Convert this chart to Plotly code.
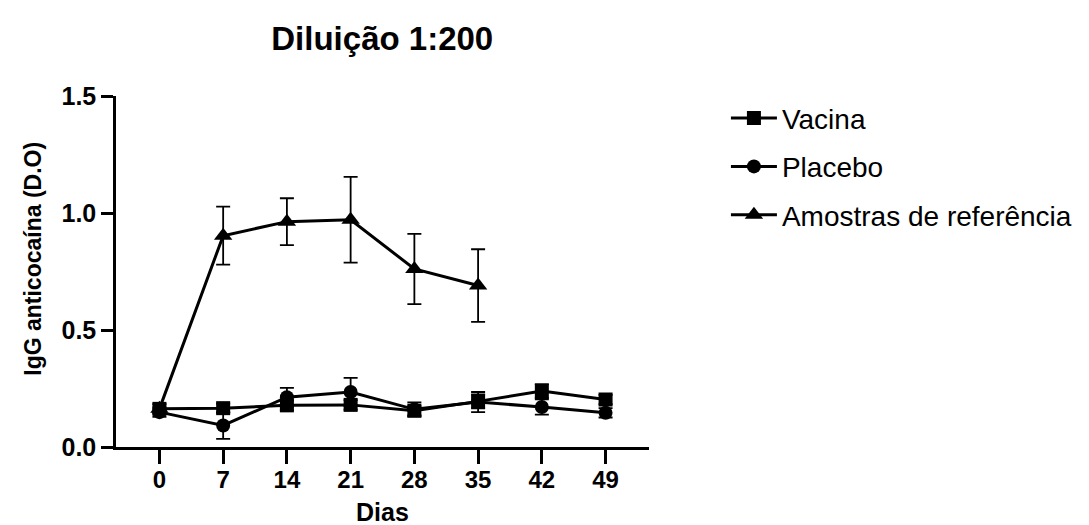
import plotly.graph_objects as go

dias = [0, 7, 14, 21, 28, 35, 42, 49]
dias_ref = [0, 7, 14, 21, 28, 35]

vacina = [0.163, 0.166, 0.178, 0.180, 0.155, 0.195, 0.239, 0.203]
vacina_err = [0.02, 0.02, 0.02, 0.02, 0.02, 0.03, 0.03, 0.02]

placebo = [0.149, 0.092, 0.213, 0.235, 0.161, 0.192, 0.171, 0.146]
placebo_err = [0.02, 0.057, 0.04, 0.06, 0.03, 0.043, 0.033, 0.02]

referencia = [0.163, 0.903, 0.963, 0.971, 0.761, 0.690]
referencia_err = [0.0, 0.124, 0.10, 0.183, 0.15, 0.155]

x_ticks = [0, 7, 14, 21, 28, 35, 42, 49]
y_ticks = [0.0, 0.5, 1.0, 1.5]
y_ticklabels = ["0.0", "0.5", "1.0", "1.5"]

FONT = "Liberation Sans, Arial, sans-serif"
BLACK = "#000000"

# plot-area geometry (pixels)
L, R, T, B = 107.5, 641.0, 87.7, 439.0
W, H = R - L, B - T

series = [
    ("Vacina", dias, vacina, vacina_err, "square", 14),
    ("Placebo", dias, placebo, placebo_err, "circle", 14),
    ("Amostras de referência", dias_ref, referencia, referencia_err, "triangle-up", 16),
]

fig = go.Figure()
for i, (name, xs, ys, es, sym, sz) in enumerate(series):
    fig.add_trace(go.Scatter(
        x=xs, y=ys, name=name, mode="lines+markers",
        legendgroup=f"g{i}",
        line=dict(color=BLACK, width=3),
        marker=dict(symbol=sym, size=sz, color=BLACK),
        error_y=dict(type="data", array=es, visible=True, color=BLACK,
                     thickness=1.8, width=7),
    ))

fig.update_layout(
    width=1089, height=525,
    paper_bgcolor="white", plot_bgcolor="white",
    margin=dict(l=L, r=1089 - R, t=T, b=525 - B, autoexpand=False),
    title=dict(text="Diluição 1:200", x=(L + R) / 2 / 1089, xanchor="center",
               y=1 - 30 / 525, yanchor="middle",
               font=dict(family=FONT, size=33, color=BLACK, weight="bold")),
    showlegend=True,
    legend=dict(x=(718 - L) / W, y=(B - 85) / H, xanchor="left", yanchor="top",
                font=dict(family=FONT, size=28, color=BLACK),
                tracegroupgap=9, bgcolor="rgba(0,0,0,0)", itemwidth=46),
    xaxis=dict(range=[-4.77, 53.77], tickvals=x_ticks, ticktext=[str(t) for t in x_ticks],
               showline=True, linecolor=BLACK, linewidth=2.5, mirror=False,
               ticks="outside", ticklen=14, tickwidth=2.5, tickcolor=BLACK,
               ticklabelstandoff=-5,
               showgrid=False, zeroline=False,
               tickfont=dict(family=FONT, size=24, color=BLACK, weight="bold")),
    yaxis=dict(range=[0, 1.5], tickvals=y_ticks, ticktext=y_ticklabels,
               showline=True, linecolor=BLACK, linewidth=2.5,
               ticks="outside", ticklen=12, tickwidth=2.5, tickcolor=BLACK,
               showgrid=False, zeroline=False,
               tickfont=dict(family=FONT, size=25, color=BLACK, weight="bold")),
    annotations=[
        dict(text="IgG anticocaína (D.O)", textangle=-90,
             xref="paper", yref="paper",
             x=(25 - L) / W, y=(B - 251) / H,
             xanchor="center", yanchor="middle", showarrow=False,
             font=dict(family=FONT, size=23, color=BLACK, weight="bold")),
        dict(text="Dias", xref="paper", yref="paper",
             x=0.5, y=(B - 520) / H, xanchor="center", yanchor="bottom",
             showarrow=False,
             font=dict(family=FONT, size=25, color=BLACK, weight="bold")),
    ],
)

fig.write_html("out.html")
